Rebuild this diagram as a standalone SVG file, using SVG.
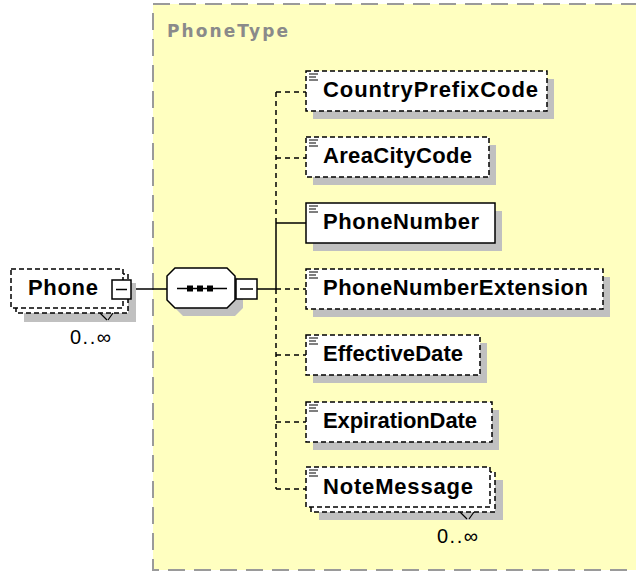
<svg xmlns="http://www.w3.org/2000/svg" width="636" height="571" viewBox="0 0 636 571">
<defs>
<style>
.bg{fill:#fff}
.cont{fill:#FFFFC0;stroke:#9a9a9a;stroke-width:2;stroke-dasharray:17 9}
.shadow{fill:#c0c0c0;stroke:none}
.opt{fill:#fff;stroke:#000;stroke-width:1.5;stroke-dasharray:5 3}
.req{fill:#fff;stroke:#000;stroke-width:1.5}
.lbl{font-family:"Liberation Sans",Arial,sans-serif;font-weight:bold;font-size:22px;fill:#000}
.title{font-family:"DejaVu Sans",Verdana,sans-serif;font-weight:bold;font-size:17px;fill:#8a8a8a}
.mult{font-family:"Liberation Sans",Arial,sans-serif;font-size:20px;fill:#000}
.ln{stroke:#000;stroke-width:1.5;fill:none}
.dl{stroke:#000;stroke-width:1.5;fill:none;stroke-dasharray:5 4}
.ic{stroke:#000;stroke-width:1.2}
</style>
</defs>
<rect class="bg" x="0" y="0" width="636" height="571"/>
<rect class="cont" x="153" y="4" width="500" height="566"/>
<text class="title" x="167" y="37" textLength="121">PhoneType</text>

<g id="connectors">
<line class="ln" x1="132" y1="289" x2="167" y2="289"/>
<line class="ln" x1="257" y1="289" x2="276" y2="289"/>
<line class="dl" x1="276" y1="92" x2="276" y2="223"/>
<line class="ln" x1="276" y1="223" x2="276" y2="289"/>
<line class="dl" x1="276" y1="289" x2="276" y2="489"/>
<line class="dl" x1="276" y1="92" x2="306" y2="92"/>
<line class="dl" x1="276" y1="158" x2="306" y2="158"/>
<line class="ln" x1="276" y1="223" x2="306" y2="223"/>
<line class="dl" x1="276" y1="289" x2="306" y2="289"/>
<line class="dl" x1="276" y1="355" x2="306" y2="355"/>
<line class="dl" x1="276" y1="422" x2="306" y2="422"/>
<line class="dl" x1="276" y1="489" x2="306" y2="489"/>
</g>

<g id="Phone">
<rect class="shadow" x="24" y="283" width="112" height="39"/>
<rect class="opt" x="16" y="274" width="112" height="39"/>
<rect class="opt" x="11" y="269" width="112" height="39"/>
<text class="lbl" x="28" y="295" textLength="70">Phone</text>
<rect class="req" x="112" y="280" width="19" height="19"/>
<line class="ln" x1="116" y1="289.5" x2="127" y2="289.5"/>
<path class="ic" d="M100,313 L107,320 M113,313 L108,320" fill="none"/>
<text class="mult" x="70" y="344" textLength="41">0..∞</text>
</g>

<g id="sequence">
<polygon class="shadow" points="183,276 235,276 243,284 243,308 235,316 183,316 175,308 175,284"/>
<polygon class="req" points="175,268 227,268 235,276 235,300 227,308 175,308 167,300 167,276"/>
<line class="ln" x1="177" y1="288.5" x2="227" y2="288.5"/>
<rect x="187" y="285.5" width="6" height="6" fill="#000"/>
<rect x="197" y="285.5" width="6" height="6" fill="#000"/>
<rect x="207" y="285.5" width="6" height="6" fill="#000"/>
<rect class="req" x="236" y="279" width="21" height="20"/>
<line class="ln" x1="240" y1="289" x2="253" y2="289"/>
</g>

<g id="CountryPrefixCode">
<rect class="shadow" x="313" y="79" width="241" height="40"/>
<rect class="opt" x="306" y="71" width="241" height="40"/>
<path class="ic" d="M309,74h9M309,77h7M309,80h9"/>
<text class="lbl" x="323" y="97" textLength="215">CountryPrefixCode</text>
</g>

<g id="AreaCityCode">
<rect class="shadow" x="313" y="145" width="183" height="40"/>
<rect class="opt" x="306" y="137" width="183" height="40"/>
<path class="ic" d="M309,140h9M309,143h7M309,146h9"/>
<text class="lbl" x="323" y="163" textLength="149">AreaCityCode</text>
</g>

<g id="PhoneNumber">
<rect class="shadow" x="313" y="211" width="189" height="40"/>
<rect class="req" x="306" y="203" width="189" height="40"/>
<path class="ic" d="M309,206h9M309,209h7M309,212h9"/>
<text class="lbl" x="323" y="229" textLength="156">PhoneNumber</text>
</g>

<g id="PhoneNumberExtension">
<rect class="shadow" x="313" y="277" width="297" height="40"/>
<rect class="opt" x="306" y="269" width="297" height="40"/>
<path class="ic" d="M309,272h9M309,275h7M309,278h9"/>
<text class="lbl" x="323" y="295" textLength="265">PhoneNumberExtension</text>
</g>

<g id="EffectiveDate">
<rect class="shadow" x="313" y="343" width="174" height="40"/>
<rect class="opt" x="306" y="335" width="174" height="40"/>
<path class="ic" d="M309,338h9M309,341h7M309,344h9"/>
<text class="lbl" x="323" y="361" textLength="140">EffectiveDate</text>
</g>

<g id="ExpirationDate">
<rect class="shadow" x="313" y="410" width="186" height="40"/>
<rect class="opt" x="306" y="402" width="186" height="40"/>
<path class="ic" d="M309,405h9M309,408h7M309,411h9"/>
<text class="lbl" x="323" y="428" textLength="154">ExpirationDate</text>
</g>

<g id="NoteMessage">
<rect class="shadow" x="319" y="480" width="184" height="40"/>
<rect class="opt" x="311" y="472" width="184" height="40"/>
<rect class="opt" x="306" y="467" width="184" height="40"/>
<path class="ic" d="M309,470h9M309,473h7M309,476h9"/>
<text class="lbl" x="323" y="494" textLength="150">NoteMessage</text>
<path class="ic" d="M460,512 L467,519 M474,512 L469,519" fill="none"/>
<text class="mult" x="437" y="543" textLength="41">0..∞</text>
</g>
</svg>
